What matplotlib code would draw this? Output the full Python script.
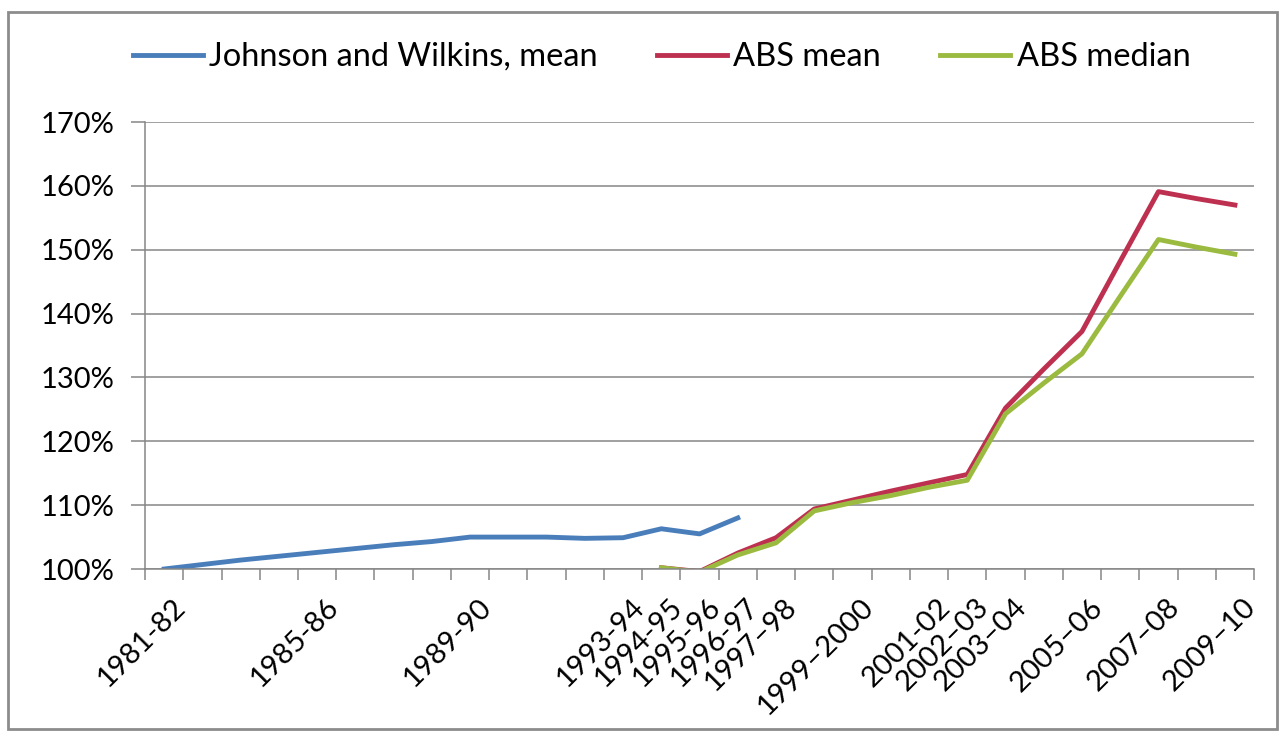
import numpy as np
import matplotlib.pyplot as plt
from matplotlib.patches import Rectangle

plt.rcParams['font.family'] = ['Lato', 'DejaVu Sans']

# financial years on the category axis
years = ['1981-82', '1982-83', '1983-84', '1984-85', '1985-86', '1986-87',
         '1987-88', '1988-89', '1989-90', '1990-91', '1991-92', '1992-93',
         '1993-94', '1994-95', '1995-96', '1996-97', '1997–98', '1998–99',
         '1999–2000', '2000–01', '2001-02', '2002–03', '2003–04', '2004–05',
         '2005–06', '2006–07', '2007–08', '2008–09', '2009–10']
shown_labels = ['1981-82', '1985-86', '1989-90', '1993-94', '1994-95',
                '1995-96', '1996-97', '1997–98', '1999–2000', '2001-02',
                '2002–03', '2003–04', '2005–06', '2007–08', '2009–10']

# index values (% of first year)
jw_mean = [100.0, 100.7, 101.4, 102.0, 102.6, 103.2, 103.8, 104.3, 105.0,
           105.0, 105.0, 104.8, 104.9, 106.3, 105.5, 108.0]
abs_mean = [100.2, 99.6, 102.5, 104.9, 109.4, 110.8, 112.2, 113.5, 114.8,
            125.2, 131.3, 137.2, 148.2, 159.1, 158.0, 157.0]
abs_median = [100.2, 99.5, 102.2, 104.1, 109.1, 110.4, 111.5, 112.8, 113.9,
              124.3, 129.1, 133.7, 142.7, 151.6, 150.4, 149.3]
abs_start = years.index('1994-95')

fig = plt.figure(figsize=(12.87, 7.31), dpi=100)
ax = fig.add_axes([0.1127, 0.2216, 0.8617, 0.6115])

x_jw = np.arange(len(jw_mean))
x_abs = np.arange(abs_start, abs_start + len(abs_mean))
lw = 3.5
ax.plot(x_jw, jw_mean, color='#4a7ebb', lw=lw, solid_joinstyle='round',
        label='Johnson and Wilkins, mean')
ax.plot(x_abs, abs_mean, color='#be3050', lw=lw, solid_joinstyle='round',
        label='ABS mean')
ax.plot(x_abs, abs_median, color='#9bbb40', lw=lw, solid_joinstyle='round',
        label='ABS median')

ax.set_xlim(-0.5, len(years) - 0.5)
ax.set_ylim(100, 170)
ax.set_yticks(np.arange(100, 171, 10))
ax.set_yticklabels([f'{v}%' for v in range(100, 171, 10)])
ax.yaxis.grid(True, color='#868686', lw=1.1)
ax.set_axisbelow(True)

# rotated labels end just right of the category centre; tick marks sit on
# the category boundaries
pos = [years.index(l) + 0.2 for l in shown_labels]
ax.set_xticks(pos)
ax.set_xticklabels(shown_labels, rotation=45, ha='right',
                   rotation_mode='anchor')
ax.set_xticks(np.arange(-0.5, len(years)), minor=True)
ax.tick_params(axis='x', which='major', length=0, pad=18, labelsize=21)
ax.tick_params(axis='x', which='minor', length=8, color='#868686', width=1.1)
ax.tick_params(axis='y', length=10, color='#868686', width=1.1, pad=12,
               labelsize=21)

for s in ['top', 'right']:
    ax.spines[s].set_visible(False)
for s in ['left', 'bottom']:
    ax.spines[s].set_color('#868686')
    ax.spines[s].set_linewidth(1.1)

fig.legend(loc='center', bbox_to_anchor=(0.514, 0.922), ncol=3, frameon=False,
           fontsize=23.5, handlelength=2.15, handletextpad=0.2,
           columnspacing=1.8)

fig.patches.append(Rectangle((8 / 1287, 2 / 731), 1269 / 1287, 717 / 731,
                             transform=fig.transFigure, fill=False,
                             edgecolor='#8c8c8c', lw=2))

fig.savefig('out.png', dpi=100)
